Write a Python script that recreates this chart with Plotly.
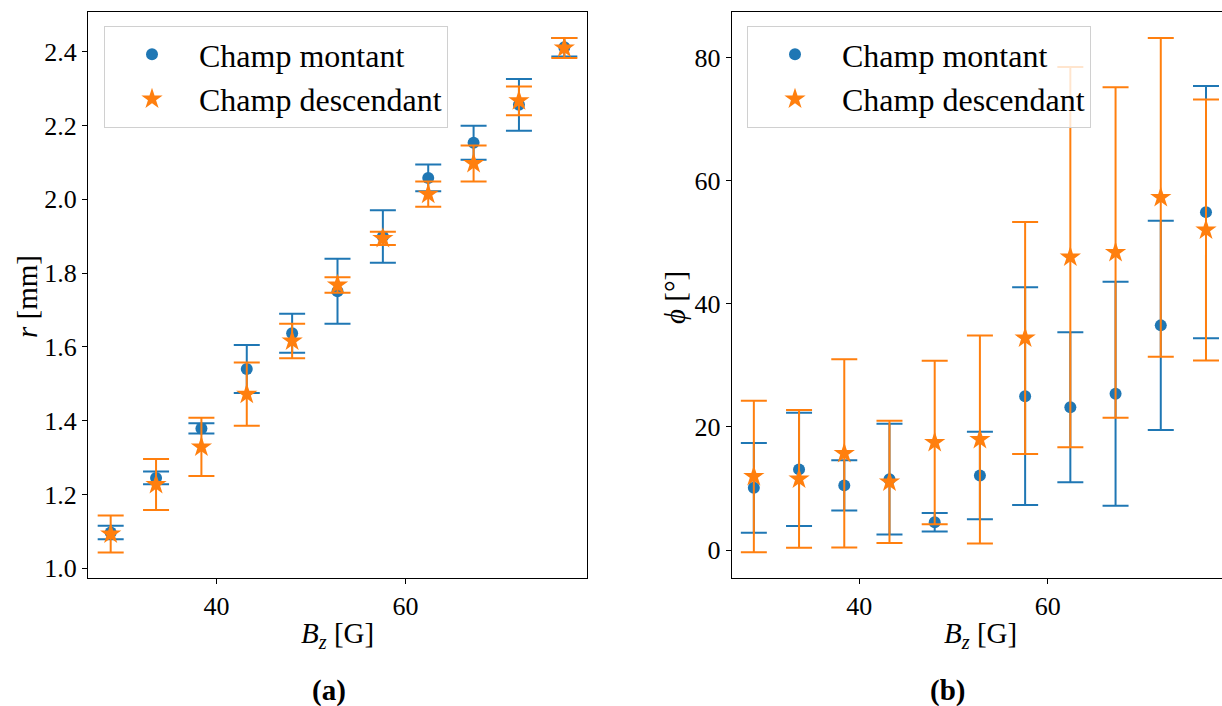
import plotly.graph_objects as go

# ---- data ----
B_z = [28.8, 33.6, 38.4, 43.2, 48.0, 52.8, 57.6, 62.4, 67.2, 72.0, 76.8]

r_montant = [1.097, 1.245, 1.379, 1.540, 1.637, 1.751, 1.899, 2.058, 2.153, 2.256, 2.412]
r_montant_err = [0.018, 0.017, 0.014, 0.065, 0.053, 0.088, 0.071, 0.036, 0.046, 0.070, 0.025]
r_descendant = [1.093, 1.227, 1.329, 1.472, 1.616, 1.768, 1.894, 2.014, 2.097, 2.267, 2.410]
r_descendant_err = [0.050, 0.069, 0.079, 0.086, 0.047, 0.021, 0.018, 0.034, 0.049, 0.039, 0.027]

phi_montant = [10.1, 13.1, 10.5, 11.5, 4.5, 12.1, 25.0, 23.2, 25.4, 36.5, 54.9]
phi_montant_err = [7.3, 9.2, 4.1, 9.0, 1.5, 7.1, 17.7, 12.2, 18.2, 17.0, 20.5]
phi_descendant = [11.95, 11.55, 15.7, 11.07, 17.47, 17.97, 34.45, 47.6, 48.35, 57.3, 52.0]
phi_descendant_err = [12.3, 11.2, 15.3, 9.95, 13.3, 16.9, 18.85, 30.9, 26.85, 25.9, 21.2]

labels = ["Champ montant", "Champ descendant"]
r_ticks = [1.0, 1.2, 1.4, 1.6, 1.8, 2.0, 2.2, 2.4]
phi_ticks = [0, 20, 40, 60, 80]
x_ticks = [40, 60]

BLUE = "#1f77b4"
ORANGE = "#ff7f0e"
FONT = "Liberation Serif"
W, H = 1222, 706


def err(vals, color):
    return dict(type="data", array=vals, visible=True, color=color,
                thickness=2, width=13)


fig = go.Figure()

fig.add_trace(go.Scatter(x=B_z, y=r_montant, mode="markers", name=labels[0],
                         marker=dict(color=BLUE, size=12, symbol="circle"),
                         error_y=err(r_montant_err, BLUE),
                         xaxis="x", yaxis="y", legend="legend"))
fig.add_trace(go.Scatter(x=B_z, y=r_descendant, mode="markers", name=labels[1],
                         marker=dict(color=ORANGE, size=16, symbol="star"),
                         error_y=err(r_descendant_err, ORANGE),
                         xaxis="x", yaxis="y", legend="legend"))
fig.add_trace(go.Scatter(x=B_z, y=phi_montant, mode="markers", name=labels[0],
                         marker=dict(color=BLUE, size=12, symbol="circle"),
                         error_y=err(phi_montant_err, BLUE),
                         xaxis="x2", yaxis="y2", legend="legend2"))
fig.add_trace(go.Scatter(x=B_z, y=phi_descendant, mode="markers", name=labels[1],
                         marker=dict(color=ORANGE, size=16, symbol="star"),
                         error_y=err(phi_descendant_err, ORANGE),
                         xaxis="x2", yaxis="y2", legend="legend2"))

y_dom = [1 - 578 / H, 1 - 12 / H]
ax_common = dict(showgrid=False, zeroline=False, showline=True, linecolor="black",
                 linewidth=1, ticks="outside", ticklen=5, tickwidth=1,
                 tickcolor="black", tickfont=dict(family=FONT, size=26, color="black"),
                 automargin=False)

legend_common = dict(font=dict(family=FONT, size=32, color="black"),
                     bgcolor="rgba(255,255,255,0.8)", bordercolor="#d0d0d0",
                     borderwidth=1, xanchor="left", yanchor="top",
                     itemwidth=84, tracegroupgap=0, itemsizing="trace")

fig.update_layout(
    width=W, height=H,
    margin=dict(l=0, r=0, t=0, b=0),
    paper_bgcolor="white", plot_bgcolor="white",
    font=dict(family=FONT, color="black"),
    xaxis=dict(domain=[88 / W, 587 / W], range=[26.4, 79.2], tickvals=x_ticks,
               mirror=True, anchor="y", **ax_common),
    yaxis=dict(domain=y_dom, range=[0.9737, 2.5076], tickvals=r_ticks,
               tickformat=".1f", mirror=True, anchor="x", **ax_common),
    xaxis2=dict(domain=[731.7 / W, 1.0], range=[26.45, 78.5], tickvals=x_ticks,
                mirror=True, anchor="y2", **ax_common),
    yaxis2=dict(domain=y_dom, range=[-4.55, 87.42], tickvals=phi_ticks,
                mirror=False, anchor="x2", **ax_common),
    legend=dict(x=104 / W, y=1 - 26 / H, **legend_common),
    legend2=dict(x=747 / W, y=1 - 26 / H, **legend_common),
    showlegend=True,
)

ann_font = dict(family=FONT, size=29, color="black")
annotations = [
    dict(text="<i>B</i><sub><i>z</i></sub> [G]", x=337.5 / W, y=1 - 635 / H),
    dict(text="<i>B</i><sub><i>z</i></sub> [G]", x=980 / W, y=1 - 635 / H),
    dict(text="<i>r</i> [mm]", x=27 / W, y=1 - 297 / H, textangle=-90),
    dict(text="<i>ϕ</i> [°]", x=675 / W, y=1 - 298 / H, textangle=-90),
    dict(text="<b>(a)</b>", x=329 / W, y=1 - 690 / H),
    dict(text="<b>(b)</b>", x=947 / W, y=1 - 690 / H),
]
for a in annotations:
    fig.add_annotation(xref="paper", yref="paper", showarrow=False,
                       xanchor="center", yanchor="middle", font=ann_font, **a)

fig.write_html("out.html")
